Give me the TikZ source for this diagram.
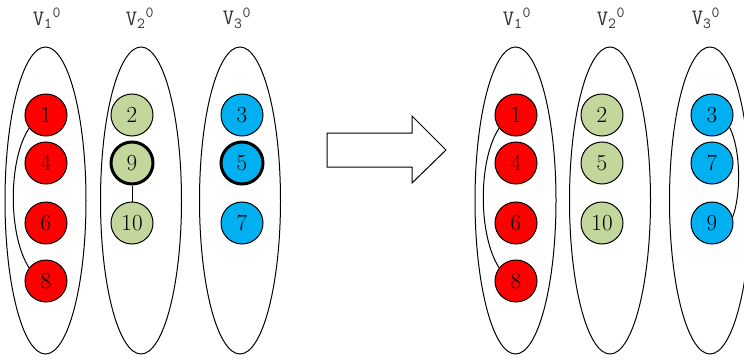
\documentclass[tikz,border=0pt]{standalone}
\usepackage{fontspec}
\usetikzlibrary{shapes.geometric}
\definecolor{cred}{HTML}{FF0000}
\definecolor{cgreen}{HTML}{C3D69B}
\definecolor{cblue}{HTML}{00B0F0}
\begin{document}
\begin{tikzpicture}[x=1pt,y=-1pt,
  vert/.style={circle,draw,line width=1pt,minimum size=42pt,inner sep=0pt,font=\fontsize{23}{23}\selectfont},
  rv/.style={vert,fill=cred},
  gv/.style={vert,fill=cgreen},
  bv/.style={vert,fill=cblue},
  heavy/.style={line width=3pt},
  grp/.style={ellipse,draw,line width=1pt,minimum width=81pt,minimum height=307pt,inner sep=0pt},
  lab/.style={font=\ttfamily\fontsize{22}{22}\selectfont,inner sep=0pt,text=black!80},
  edge/.style={line width=1pt}]
\useasboundingbox (0,0) rectangle (744,361);
% left groups
\node[grp] (e1) at (45.5,200.5) {};
\node[grp] (e2) at (141,200.5) {};
\node[grp] (e3) at (240,200.5) {};
\node[lab] (l1) at (47,18) {V\textsubscript{1}\textsuperscript{0}};
\node[lab] (l2) at (140,18) {V\textsubscript{2}\textsuperscript{0}};
\node[lab] (l3) at (237,18) {V\textsubscript{3}\textsuperscript{0}};
\node[rv] (a1) at (46,115) {1};
\node[rv] (a4) at (46,163) {4};
\node[rv] (a6) at (46,223) {6};
\node[rv] (a8) at (46,281) {8};
\node[gv] (a2) at (132,115) {2};
\node[gv,heavy] (a9) at (132,163) {9};
\node[gv] (a10) at (132,223) {10};
\node[bv] (a3) at (242,115) {3};
\node[bv,heavy] (a5) at (242,163) {5};
\node[bv] (a7) at (242,223) {7};
\draw[edge] (a1.218) .. controls (8,160) and (8,235) .. (a8.142);
\draw[edge] (a9) -- (a10);
% big arrow
\draw[line width=1pt,line join=miter] (327,133) -- (412,133) -- (412,116) -- (446,150) -- (412,183) -- (412,167) -- (327,167) -- cycle;
% right groups
\node[grp] (f1) at (515.5,200.5) {};
\node[grp] (f2) at (610,200.5) {};
\node[grp] (f3) at (710,200.5) {};
\node[lab] (m1) at (517,18) {V\textsubscript{1}\textsuperscript{0}};
\node[lab] (m2) at (611,18) {V\textsubscript{2}\textsuperscript{0}};
\node[lab] (m3) at (706,18) {V\textsubscript{3}\textsuperscript{0}};
\node[rv] (b1) at (516,115) {1};
\node[rv] (b4) at (516,163) {4};
\node[rv] (b6) at (516,223) {6};
\node[rv] (b8) at (516,281) {8};
\node[gv] (b2) at (602,115) {2};
\node[gv] (b5) at (602,163) {5};
\node[gv] (b10) at (602,223) {10};
\node[bv] (b3) at (712,115) {3};
\node[bv] (b7) at (712,163) {7};
\node[bv] (b9) at (712,223) {9};
\draw[edge] (b1.218) .. controls (478,160) and (478,235) .. (b8.142);
\draw[edge] (b3.-35) .. controls (741,150) and (741,195) .. (b9.16);
\end{tikzpicture}
\end{document}
